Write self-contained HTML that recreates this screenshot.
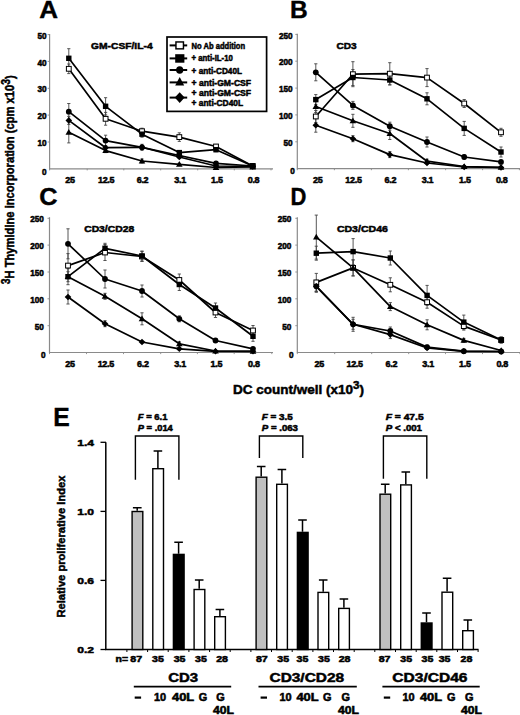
<!DOCTYPE html><html><head><meta charset="utf-8"><style>html,body{margin:0;padding:0;background:#fff;}svg{display:block;font-family:"Liberation Sans", sans-serif;}</style></head><body>
<svg width="520" height="715" viewBox="0 0 520 715">
<rect width="520" height="715" fill="#fff"/>
<text x="39.3" y="18.2" font-size="24.5" font-weight="bold" stroke="#000" stroke-width="0.4" textLength="18.8" lengthAdjust="spacingAndGlyphs">A</text>
<text x="289.9" y="18.3" font-size="24.5" font-weight="bold" stroke="#000" stroke-width="0.4" textLength="17.7" lengthAdjust="spacingAndGlyphs">B</text>
<text x="39.3" y="205.4" font-size="24.5" font-weight="bold" stroke="#000" stroke-width="0.4" textLength="18.3" lengthAdjust="spacingAndGlyphs">C</text>
<text x="290.5" y="204.9" font-size="24.5" font-weight="bold" stroke="#000" stroke-width="0.4" textLength="15.9" lengthAdjust="spacingAndGlyphs">D</text>
<text x="53.3" y="426.4" font-size="26.5" font-weight="bold" stroke="#000" stroke-width="0.4" textLength="16.5" lengthAdjust="spacingAndGlyphs">E</text>
<path d="M49.6 34.0V168.8H273" stroke="#8a8a8a" stroke-width="1.2" fill="none"/>
<path d="M47.6 142.0H49.6M47.6 115.1H49.6M47.6 88.3H49.6M47.6 61.4H49.6M47.6 34.6H49.6M87.2 168.8v1.6M123.8 168.8v1.6M160.7 168.8v1.6M197.7 168.8v1.6M234.3 168.8v1.6M49.6 168.8v1.6M271.0 168.8v1.6" stroke="#8a8a8a" stroke-width="0.9" fill="none"/>
<text x="46.6" y="174.6" font-size="8.2" font-weight="bold" stroke="#000" stroke-width="0.5" text-anchor="end" >0</text>
<text x="46.6" y="146.1" font-size="8.2" font-weight="bold" stroke="#000" stroke-width="0.5" text-anchor="end" >10</text>
<text x="46.6" y="119.2" font-size="8.2" font-weight="bold" stroke="#000" stroke-width="0.5" text-anchor="end" >20</text>
<text x="46.6" y="92.4" font-size="8.2" font-weight="bold" stroke="#000" stroke-width="0.5" text-anchor="end" >30</text>
<text x="46.6" y="65.5" font-size="8.2" font-weight="bold" stroke="#000" stroke-width="0.5" text-anchor="end" >40</text>
<text x="46.6" y="38.7" font-size="8.2" font-weight="bold" stroke="#000" stroke-width="0.5" text-anchor="end" >50</text>
<text x="70.0" y="183.1" font-size="9" font-weight="bold" stroke="#000" stroke-width="0.5" text-anchor="middle" letter-spacing="-0.3">25</text>
<text x="106.1" y="183.1" font-size="9" font-weight="bold" stroke="#000" stroke-width="0.5" text-anchor="middle" letter-spacing="-0.3">12.5</text>
<text x="142.5" y="183.1" font-size="9" font-weight="bold" stroke="#000" stroke-width="0.5" text-anchor="middle" letter-spacing="-0.3">6.2</text>
<text x="180.1" y="183.1" font-size="9" font-weight="bold" stroke="#000" stroke-width="0.5" text-anchor="middle" letter-spacing="-0.3">3.1</text>
<text x="216.8" y="183.1" font-size="9" font-weight="bold" stroke="#000" stroke-width="0.5" text-anchor="middle" letter-spacing="-0.3">1.5</text>
<text x="253.5" y="183.1" font-size="9" font-weight="bold" stroke="#000" stroke-width="0.5" text-anchor="middle" letter-spacing="-0.3">0.8</text>
<text x="91.1" y="49.4" font-size="9.5" font-weight="bold" stroke="#000" stroke-width="0.5" textLength="61.5" lengthAdjust="spacingAndGlyphs" >GM-CSF/IL-4</text>
<path d="M68.8 64.0V73.6M67.2 64.0H70.4M67.2 73.6H70.4" stroke="#444" stroke-width="0.9" fill="none"/>
<path d="M105.6 112.4V125.2M104.0 112.4H107.2M104.0 125.2H107.2" stroke="#444" stroke-width="0.9" fill="none"/>
<path d="M142.0 128.2V134.2M140.4 128.2H143.6M140.4 134.2H143.6" stroke="#444" stroke-width="0.9" fill="none"/>
<path d="M179.3 132.8V141.4M177.7 132.8H180.9M177.7 141.4H180.9" stroke="#444" stroke-width="0.9" fill="none"/>
<path d="M216.0 144.5V148.5M214.4 144.5H217.6M214.4 148.5H217.6" stroke="#444" stroke-width="0.9" fill="none"/>
<path d="M252.7 165.0V167.0M251.1 165.0H254.3M251.1 167.0H254.3" stroke="#444" stroke-width="0.9" fill="none"/>
<path d="M68.8 48.7V67.9M67.2 48.7H70.4M67.2 67.9H70.4" stroke="#444" stroke-width="0.9" fill="none"/>
<path d="M105.6 97.7V114.9M104.0 97.7H107.2M104.0 114.9H107.2" stroke="#444" stroke-width="0.9" fill="none"/>
<path d="M142.0 131.2V137.2M140.4 131.2H143.6M140.4 137.2H143.6" stroke="#444" stroke-width="0.9" fill="none"/>
<path d="M179.3 150.6V154.6M177.7 150.6H180.9M177.7 154.6H180.9" stroke="#444" stroke-width="0.9" fill="none"/>
<path d="M216.0 147.7V151.7M214.4 147.7H217.6M214.4 151.7H217.6" stroke="#444" stroke-width="0.9" fill="none"/>
<path d="M252.7 165.0V167.0M251.1 165.0H254.3M251.1 167.0H254.3" stroke="#444" stroke-width="0.9" fill="none"/>
<path d="M68.8 103.5V119.9M67.2 103.5H70.4M67.2 119.9H70.4" stroke="#444" stroke-width="0.9" fill="none"/>
<path d="M105.6 135.2V146.0M104.0 135.2H107.2M104.0 146.0H107.2" stroke="#444" stroke-width="0.9" fill="none"/>
<path d="M142.0 144.3V150.3M140.4 144.3H143.6M140.4 150.3H143.6" stroke="#444" stroke-width="0.9" fill="none"/>
<path d="M179.3 153.5V157.5M177.7 153.5H180.9M177.7 157.5H180.9" stroke="#444" stroke-width="0.9" fill="none"/>
<path d="M216.0 162.4V164.4M214.4 162.4H217.6M214.4 164.4H217.6" stroke="#444" stroke-width="0.9" fill="none"/>

<path d="M68.8 116.4V124.4M67.2 116.4H70.4M67.2 124.4H70.4" stroke="#444" stroke-width="0.9" fill="none"/>
<path d="M105.6 145.7V149.7M104.0 145.7H107.2M104.0 149.7H107.2" stroke="#444" stroke-width="0.9" fill="none"/>
<path d="M142.0 145.3V149.3M140.4 145.3H143.6M140.4 149.3H143.6" stroke="#444" stroke-width="0.9" fill="none"/>
<path d="M179.3 156.0V158.0M177.7 156.0H180.9M177.7 158.0H180.9" stroke="#444" stroke-width="0.9" fill="none"/>


<path d="M68.8 121.7V142.9M67.2 121.7H70.4M67.2 142.9H70.4" stroke="#444" stroke-width="0.9" fill="none"/>
<path d="M105.6 148.6V152.6M104.0 148.6H107.2M104.0 152.6H107.2" stroke="#444" stroke-width="0.9" fill="none"/>
<path d="M142.0 159.0V163.0M140.4 159.0H143.6M140.4 163.0H143.6" stroke="#444" stroke-width="0.9" fill="none"/>
<path d="M179.3 163.3V165.3M177.7 163.3H180.9M177.7 165.3H180.9" stroke="#444" stroke-width="0.9" fill="none"/>


<polyline points="68.8,68.8 105.6,118.8 142.0,131.2 179.3,137.1 216.0,146.5 252.7,166.0" fill="none" stroke="#000" stroke-width="1.7" stroke-linejoin="round"/>
<polyline points="68.8,58.3 105.6,106.3 142.0,134.2 179.3,152.6 216.0,149.7 252.7,166.0" fill="none" stroke="#000" stroke-width="1.7" stroke-linejoin="round"/>
<polyline points="68.8,111.7 105.6,140.6 142.0,147.3 179.3,155.5 216.0,163.4 252.7,166.0" fill="none" stroke="#000" stroke-width="1.7" stroke-linejoin="round"/>
<polyline points="68.8,120.4 105.6,147.7 142.0,147.3 179.3,157.0 216.0,166.0 252.7,166.5" fill="none" stroke="#000" stroke-width="1.7" stroke-linejoin="round"/>
<polyline points="68.8,132.3 105.6,150.6 142.0,161.0 179.3,164.3 216.0,167.5 252.7,167.0" fill="none" stroke="#000" stroke-width="1.7" stroke-linejoin="round"/>
<rect x="66.4" y="66.4" width="4.8" height="4.8" fill="#fff" stroke="#000" stroke-width="1.0"/>
<rect x="103.2" y="116.4" width="4.8" height="4.8" fill="#fff" stroke="#000" stroke-width="1.0"/>
<rect x="139.6" y="128.8" width="4.8" height="4.8" fill="#fff" stroke="#000" stroke-width="1.0"/>
<rect x="176.9" y="134.7" width="4.8" height="4.8" fill="#fff" stroke="#000" stroke-width="1.0"/>
<rect x="213.6" y="144.1" width="4.8" height="4.8" fill="#fff" stroke="#000" stroke-width="1.0"/>
<rect x="250.3" y="163.6" width="4.8" height="4.8" fill="#fff" stroke="#000" stroke-width="1.0"/>
<rect x="66.1" y="55.6" width="5.4" height="5.4" fill="#000"/>
<rect x="102.9" y="103.6" width="5.4" height="5.4" fill="#000"/>
<rect x="139.3" y="131.5" width="5.4" height="5.4" fill="#000"/>
<rect x="176.6" y="149.9" width="5.4" height="5.4" fill="#000"/>
<rect x="213.3" y="147.0" width="5.4" height="5.4" fill="#000"/>
<rect x="250.0" y="163.3" width="5.4" height="5.4" fill="#000"/>
<circle cx="68.8" cy="111.7" r="2.9" fill="#000"/>
<circle cx="105.6" cy="140.6" r="2.9" fill="#000"/>
<circle cx="142.0" cy="147.3" r="2.9" fill="#000"/>
<circle cx="179.3" cy="155.5" r="2.9" fill="#000"/>
<circle cx="216.0" cy="163.4" r="2.9" fill="#000"/>
<circle cx="252.7" cy="166.0" r="2.9" fill="#000"/>
<path d="M68.8 117.1L72.1 120.4L68.8 123.7L65.5 120.4Z" fill="#000"/>
<path d="M105.6 144.4L108.9 147.7L105.6 151.0L102.3 147.7Z" fill="#000"/>
<path d="M142.0 144.0L145.3 147.3L142.0 150.6L138.7 147.3Z" fill="#000"/>
<path d="M179.3 153.7L182.6 157.0L179.3 160.3L176.0 157.0Z" fill="#000"/>
<path d="M216.0 162.7L219.3 166.0L216.0 169.3L212.7 166.0Z" fill="#000"/>
<path d="M252.7 163.2L256.0 166.5L252.7 169.8L249.4 166.5Z" fill="#000"/>
<path d="M68.8 129.0L72.1 134.7L65.5 134.7Z" fill="#000"/>
<path d="M105.6 147.3L108.9 153.0L102.3 153.0Z" fill="#000"/>
<path d="M142.0 157.7L145.3 163.4L138.7 163.4Z" fill="#000"/>
<path d="M179.3 161.0L182.6 166.7L176.0 166.7Z" fill="#000"/>
<path d="M216.0 164.2L219.3 169.9L212.7 169.9Z" fill="#000"/>
<path d="M252.7 163.7L256.0 169.4L249.4 169.4Z" fill="#000"/>
<rect x="167" y="37" width="99.6" height="74.4" fill="#fff" stroke="#000" stroke-width="1.7"/>
<path d="M169.6 45.4H187.2" stroke="#000" stroke-width="2"/>
<rect x="175.95" y="41.95" width="7.5" height="6.9" fill="#fff" stroke="#000" stroke-width="1.45"/>
<text x="191.6" y="49.0" font-size="8.6" font-weight="bold" stroke="#000" stroke-width="0.5" textLength="53.5" lengthAdjust="spacingAndGlyphs" >No Ab addition</text>
<path d="M169.6 58.4H187.2" stroke="#000" stroke-width="2"/>
<rect x="175.20" y="54.20" width="9.2" height="8.5" fill="#000"/>
<text x="191.6" y="61.1" font-size="8.6" font-weight="bold" stroke="#000" stroke-width="0.5" textLength="41.2" lengthAdjust="spacingAndGlyphs" >+ anti-IL-10</text>
<path d="M169.6 70.0H187.2" stroke="#000" stroke-width="2"/>
<ellipse cx="179.70" cy="70.00" rx="3.6" ry="3.8" fill="#000"/>
<text x="191.6" y="74.1" font-size="8.6" font-weight="bold" stroke="#000" stroke-width="0.5" textLength="50.4" lengthAdjust="spacingAndGlyphs" >+ anti-CD40L</text>
<path d="M169.6 82.4H187.2" stroke="#000" stroke-width="2"/>
<path d="M179.70 76.90L184.20 85.50L175.20 85.50Z" fill="#000"/>
<text x="191.6" y="85.6" font-size="8.6" font-weight="bold" stroke="#000" stroke-width="0.5" textLength="59.5" lengthAdjust="spacingAndGlyphs" >+ anti-GM-CSF</text>
<path d="M169.6 97.6H187.2" stroke="#000" stroke-width="2"/>
<path d="M179.70 92.20L184.60 97.60L179.70 103.00L174.80 97.60Z" fill="#000"/>
<text x="191.6" y="96.3" font-size="8.6" font-weight="bold" stroke="#000" stroke-width="0.5" textLength="59.5" lengthAdjust="spacingAndGlyphs" >+ anti-GM-CSF</text>
<text x="191.6" y="105.7" font-size="8.6" font-weight="bold" stroke="#000" stroke-width="0.5" textLength="51.5" lengthAdjust="spacingAndGlyphs" >+ anti-CD40L</text>
<path d="M297.3 33.8V168.6H520" stroke="#8a8a8a" stroke-width="1.2" fill="none"/>
<path d="M295.3 141.8H297.3M295.3 114.9H297.3M295.3 88.1H297.3M295.3 61.2H297.3M295.3 34.4H297.3M334.4 168.6v1.6M371.4 168.6v1.6M408.4 168.6v1.6M445.6 168.6v1.6M482.6 168.6v1.6M297.3 168.6v1.6M519.4 168.6v1.6" stroke="#8a8a8a" stroke-width="0.9" fill="none"/>
<text x="294.7" y="174.4" font-size="8.2" font-weight="bold" stroke="#000" stroke-width="0.5" text-anchor="end" >0</text>
<text x="292.6" y="145.9" font-size="8.2" font-weight="bold" stroke="#000" stroke-width="0.5" text-anchor="end" >50</text>
<text x="292.6" y="119.0" font-size="8.2" font-weight="bold" stroke="#000" stroke-width="0.5" text-anchor="end" >100</text>
<text x="292.6" y="92.2" font-size="8.2" font-weight="bold" stroke="#000" stroke-width="0.5" text-anchor="end" >150</text>
<text x="292.6" y="65.3" font-size="8.2" font-weight="bold" stroke="#000" stroke-width="0.5" text-anchor="end" >200</text>
<text x="292.6" y="38.5" font-size="8.2" font-weight="bold" stroke="#000" stroke-width="0.5" text-anchor="end" >250</text>
<text x="317.7" y="182.9" font-size="9" font-weight="bold" stroke="#000" stroke-width="0.5" text-anchor="middle" letter-spacing="-0.3">25</text>
<text x="353.5" y="182.9" font-size="9" font-weight="bold" stroke="#000" stroke-width="0.5" text-anchor="middle" letter-spacing="-0.3">12.5</text>
<text x="390.4" y="182.9" font-size="9" font-weight="bold" stroke="#000" stroke-width="0.5" text-anchor="middle" letter-spacing="-0.3">6.2</text>
<text x="427.5" y="182.9" font-size="9" font-weight="bold" stroke="#000" stroke-width="0.5" text-anchor="middle" letter-spacing="-0.3">3.1</text>
<text x="464.8" y="182.9" font-size="9" font-weight="bold" stroke="#000" stroke-width="0.5" text-anchor="middle" letter-spacing="-0.3">1.5</text>
<text x="501.7" y="182.9" font-size="9" font-weight="bold" stroke="#000" stroke-width="0.5" text-anchor="middle" letter-spacing="-0.3">0.8</text>
<text x="336.5" y="48.9" font-size="9.5" font-weight="bold" stroke="#000" stroke-width="0.5" textLength="20.2" lengthAdjust="spacingAndGlyphs" >CD3</text>
<path d="M315.8 110.5V122.5M314.2 110.5H317.4M314.2 122.5H317.4" stroke="#444" stroke-width="0.9" fill="none"/>
<path d="M352.9 61.7V86.7M351.3 61.7H354.5M351.3 86.7H354.5" stroke="#444" stroke-width="0.9" fill="none"/>
<path d="M389.8 62.7V84.7M388.2 62.7H391.4M388.2 84.7H391.4" stroke="#444" stroke-width="0.9" fill="none"/>
<path d="M427.0 68.6V86.6M425.4 68.6H428.6M425.4 86.6H428.6" stroke="#444" stroke-width="0.9" fill="none"/>
<path d="M464.2 99.5V107.5M462.6 99.5H465.8M462.6 107.5H465.8" stroke="#444" stroke-width="0.9" fill="none"/>
<path d="M501.0 128.3V136.3M499.4 128.3H502.6M499.4 136.3H502.6" stroke="#444" stroke-width="0.9" fill="none"/>
<path d="M315.8 94.6V104.6M314.2 94.6H317.4M314.2 104.6H317.4" stroke="#444" stroke-width="0.9" fill="none"/>
<path d="M352.9 69.5V85.5M351.3 69.5H354.5M351.3 85.5H354.5" stroke="#444" stroke-width="0.9" fill="none"/>
<path d="M389.8 75.0V85.0M388.2 75.0H391.4M388.2 85.0H391.4" stroke="#444" stroke-width="0.9" fill="none"/>
<path d="M427.0 92.8V104.8M425.4 92.8H428.6M425.4 104.8H428.6" stroke="#444" stroke-width="0.9" fill="none"/>
<path d="M464.2 121.4V135.4M462.6 121.4H465.8M462.6 135.4H465.8" stroke="#444" stroke-width="0.9" fill="none"/>
<path d="M501.0 147.0V157.0M499.4 147.0H502.6M499.4 157.0H502.6" stroke="#444" stroke-width="0.9" fill="none"/>
<path d="M315.8 63.8V80.8M314.2 63.8H317.4M314.2 80.8H317.4" stroke="#444" stroke-width="0.9" fill="none"/>
<path d="M352.9 101.4V109.4M351.3 101.4H354.5M351.3 109.4H354.5" stroke="#444" stroke-width="0.9" fill="none"/>
<path d="M389.8 122.2V130.2M388.2 122.2H391.4M388.2 130.2H391.4" stroke="#444" stroke-width="0.9" fill="none"/>
<path d="M427.0 137.0V147.0M425.4 137.0H428.6M425.4 147.0H428.6" stroke="#444" stroke-width="0.9" fill="none"/>
<path d="M464.2 155.0V159.0M462.6 155.0H465.8M462.6 159.0H465.8" stroke="#444" stroke-width="0.9" fill="none"/>
<path d="M501.0 160.9V162.9M499.4 160.9H502.6M499.4 162.9H502.6" stroke="#444" stroke-width="0.9" fill="none"/>
<path d="M315.8 118.2V132.2M314.2 118.2H317.4M314.2 132.2H317.4" stroke="#444" stroke-width="0.9" fill="none"/>
<path d="M352.9 135.7V141.7M351.3 135.7H354.5M351.3 141.7H354.5" stroke="#444" stroke-width="0.9" fill="none"/>
<path d="M389.8 151.6V157.6M388.2 151.6H391.4M388.2 157.6H391.4" stroke="#444" stroke-width="0.9" fill="none"/>
<path d="M427.0 162.0V164.0M425.4 162.0H428.6M425.4 164.0H428.6" stroke="#444" stroke-width="0.9" fill="none"/>


<path d="M315.8 100.5V112.5M314.2 100.5H317.4M314.2 112.5H317.4" stroke="#444" stroke-width="0.9" fill="none"/>
<path d="M352.9 114.3V127.3M351.3 114.3H354.5M351.3 127.3H354.5" stroke="#444" stroke-width="0.9" fill="none"/>
<path d="M389.8 127.5V139.5M388.2 127.5H391.4M388.2 139.5H391.4" stroke="#444" stroke-width="0.9" fill="none"/>
<path d="M427.0 159.2V163.2M425.4 159.2H428.6M425.4 163.2H428.6" stroke="#444" stroke-width="0.9" fill="none"/>
<path d="M464.2 165.5V167.5M462.6 165.5H465.8M462.6 167.5H465.8" stroke="#444" stroke-width="0.9" fill="none"/>

<polyline points="315.8,116.5 352.9,74.2 389.8,73.7 427.0,77.6 464.2,103.5 501.0,132.3" fill="none" stroke="#000" stroke-width="1.7" stroke-linejoin="round"/>
<polyline points="315.8,99.6 352.9,77.5 389.8,80.0 427.0,98.8 464.2,128.4 501.0,152.0" fill="none" stroke="#000" stroke-width="1.7" stroke-linejoin="round"/>
<polyline points="315.8,72.3 352.9,105.4 389.8,126.2 427.0,142.0 464.2,157.0 501.0,161.9" fill="none" stroke="#000" stroke-width="1.7" stroke-linejoin="round"/>
<polyline points="315.8,125.2 352.9,138.7 389.8,154.6 427.0,163.0 464.2,167.0 501.0,167.5" fill="none" stroke="#000" stroke-width="1.7" stroke-linejoin="round"/>
<polyline points="315.8,106.5 352.9,120.8 389.8,133.5 427.0,161.2 464.2,166.5 501.0,167.3" fill="none" stroke="#000" stroke-width="1.7" stroke-linejoin="round"/>
<rect x="313.4" y="114.1" width="4.8" height="4.8" fill="#fff" stroke="#000" stroke-width="1.0"/>
<rect x="350.5" y="71.8" width="4.8" height="4.8" fill="#fff" stroke="#000" stroke-width="1.0"/>
<rect x="387.4" y="71.3" width="4.8" height="4.8" fill="#fff" stroke="#000" stroke-width="1.0"/>
<rect x="424.6" y="75.2" width="4.8" height="4.8" fill="#fff" stroke="#000" stroke-width="1.0"/>
<rect x="461.8" y="101.1" width="4.8" height="4.8" fill="#fff" stroke="#000" stroke-width="1.0"/>
<rect x="498.6" y="129.9" width="4.8" height="4.8" fill="#fff" stroke="#000" stroke-width="1.0"/>
<rect x="313.1" y="96.9" width="5.4" height="5.4" fill="#000"/>
<rect x="350.2" y="74.8" width="5.4" height="5.4" fill="#000"/>
<rect x="387.1" y="77.3" width="5.4" height="5.4" fill="#000"/>
<rect x="424.3" y="96.1" width="5.4" height="5.4" fill="#000"/>
<rect x="461.5" y="125.7" width="5.4" height="5.4" fill="#000"/>
<rect x="498.3" y="149.3" width="5.4" height="5.4" fill="#000"/>
<circle cx="315.8" cy="72.3" r="2.9" fill="#000"/>
<circle cx="352.9" cy="105.4" r="2.9" fill="#000"/>
<circle cx="389.8" cy="126.2" r="2.9" fill="#000"/>
<circle cx="427.0" cy="142.0" r="2.9" fill="#000"/>
<circle cx="464.2" cy="157.0" r="2.9" fill="#000"/>
<circle cx="501.0" cy="161.9" r="2.9" fill="#000"/>
<path d="M315.8 121.9L319.1 125.2L315.8 128.5L312.5 125.2Z" fill="#000"/>
<path d="M352.9 135.4L356.2 138.7L352.9 142.0L349.6 138.7Z" fill="#000"/>
<path d="M389.8 151.3L393.1 154.6L389.8 157.9L386.5 154.6Z" fill="#000"/>
<path d="M427.0 159.7L430.3 163.0L427.0 166.3L423.7 163.0Z" fill="#000"/>
<path d="M464.2 163.7L467.5 167.0L464.2 170.3L460.9 167.0Z" fill="#000"/>
<path d="M501.0 164.2L504.3 167.5L501.0 170.8L497.7 167.5Z" fill="#000"/>
<path d="M315.8 103.2L319.1 108.9L312.5 108.9Z" fill="#000"/>
<path d="M352.9 117.5L356.2 123.2L349.6 123.2Z" fill="#000"/>
<path d="M389.8 130.2L393.1 135.9L386.5 135.9Z" fill="#000"/>
<path d="M427.0 157.9L430.3 163.6L423.7 163.6Z" fill="#000"/>
<path d="M464.2 163.2L467.5 168.9L460.9 168.9Z" fill="#000"/>
<path d="M501.0 164.0L504.3 169.7L497.7 169.7Z" fill="#000"/>
<path d="M49.5 217.2V352.5H273" stroke="#8a8a8a" stroke-width="1.2" fill="none"/>
<path d="M47.5 325.7H49.5M47.5 298.8H49.5M47.5 272.0H49.5M47.5 245.1H49.5M47.5 218.3H49.5M86.5 352.5v1.6M123.5 352.5v1.6M160.7 352.5v1.6M197.4 352.5v1.6M234.2 352.5v1.6M49.5 352.5v1.6M271.8 352.5v1.6" stroke="#8a8a8a" stroke-width="0.9" fill="none"/>
<text x="45.5" y="358.3" font-size="8.2" font-weight="bold" stroke="#000" stroke-width="0.5" text-anchor="end" >0</text>
<text x="43.8" y="329.8" font-size="8.2" font-weight="bold" stroke="#000" stroke-width="0.5" text-anchor="end" >50</text>
<text x="43.8" y="302.9" font-size="8.2" font-weight="bold" stroke="#000" stroke-width="0.5" text-anchor="end" >100</text>
<text x="43.8" y="276.1" font-size="8.2" font-weight="bold" stroke="#000" stroke-width="0.5" text-anchor="end" >150</text>
<text x="43.8" y="249.2" font-size="8.2" font-weight="bold" stroke="#000" stroke-width="0.5" text-anchor="end" >200</text>
<text x="43.8" y="222.4" font-size="8.2" font-weight="bold" stroke="#000" stroke-width="0.5" text-anchor="end" >250</text>
<text x="70.0" y="366.8" font-size="9" font-weight="bold" stroke="#000" stroke-width="0.5" text-anchor="middle" letter-spacing="-0.3">25</text>
<text x="105.8" y="366.8" font-size="9" font-weight="bold" stroke="#000" stroke-width="0.5" text-anchor="middle" letter-spacing="-0.3">12.5</text>
<text x="142.8" y="366.8" font-size="9" font-weight="bold" stroke="#000" stroke-width="0.5" text-anchor="middle" letter-spacing="-0.3">6.2</text>
<text x="180.1" y="366.8" font-size="9" font-weight="bold" stroke="#000" stroke-width="0.5" text-anchor="middle" letter-spacing="-0.3">3.1</text>
<text x="216.3" y="366.8" font-size="9" font-weight="bold" stroke="#000" stroke-width="0.5" text-anchor="middle" letter-spacing="-0.3">1.5</text>
<text x="253.8" y="366.8" font-size="9" font-weight="bold" stroke="#000" stroke-width="0.5" text-anchor="middle" letter-spacing="-0.3">0.8</text>
<text x="84.2" y="232.1" font-size="9.5" font-weight="bold" stroke="#000" stroke-width="0.5" textLength="50.0" lengthAdjust="spacingAndGlyphs" >CD3/CD28</text>
<path d="M68.0 253.6V277.6M66.4 253.6H69.6M66.4 277.6H69.6" stroke="#444" stroke-width="0.9" fill="none"/>
<path d="M105.0 244.5V260.5M103.4 244.5H106.6M103.4 260.5H106.6" stroke="#444" stroke-width="0.9" fill="none"/>
<path d="M142.0 251.5V261.5M140.4 251.5H143.6M140.4 261.5H143.6" stroke="#444" stroke-width="0.9" fill="none"/>
<path d="M179.3 274.0V286.0M177.7 274.0H180.9M177.7 286.0H180.9" stroke="#444" stroke-width="0.9" fill="none"/>
<path d="M215.5 307.5V317.5M213.9 307.5H217.1M213.9 317.5H217.1" stroke="#444" stroke-width="0.9" fill="none"/>
<path d="M253.0 325.5V335.5M251.4 325.5H254.6M251.4 335.5H254.6" stroke="#444" stroke-width="0.9" fill="none"/>
<path d="M68.0 268.7V284.7M66.4 268.7H69.6M66.4 284.7H69.6" stroke="#444" stroke-width="0.9" fill="none"/>
<path d="M105.0 243.3V253.3M103.4 243.3H106.6M103.4 253.3H106.6" stroke="#444" stroke-width="0.9" fill="none"/>
<path d="M142.0 251.0V261.0M140.4 251.0H143.6M140.4 261.0H143.6" stroke="#444" stroke-width="0.9" fill="none"/>
<path d="M179.3 278.5V290.5M177.7 278.5H180.9M177.7 290.5H180.9" stroke="#444" stroke-width="0.9" fill="none"/>
<path d="M215.5 303.0V313.0M213.9 303.0H217.1M213.9 313.0H217.1" stroke="#444" stroke-width="0.9" fill="none"/>
<path d="M253.0 331.3V341.3M251.4 331.3H254.6M251.4 341.3H254.6" stroke="#444" stroke-width="0.9" fill="none"/>
<path d="M68.0 228.8V258.8M66.4 228.8H69.6M66.4 258.8H69.6" stroke="#444" stroke-width="0.9" fill="none"/>
<path d="M105.0 270.0V288.0M103.4 270.0H106.6M103.4 288.0H106.6" stroke="#444" stroke-width="0.9" fill="none"/>
<path d="M142.0 285.0V297.0M140.4 285.0H143.6M140.4 297.0H143.6" stroke="#444" stroke-width="0.9" fill="none"/>
<path d="M179.3 315.8V321.8M177.7 315.8H180.9M177.7 321.8H180.9" stroke="#444" stroke-width="0.9" fill="none"/>
<path d="M215.5 339.5V341.5M213.9 339.5H217.1M213.9 341.5H217.1" stroke="#444" stroke-width="0.9" fill="none"/>

<path d="M68.0 290.0V304.0M66.4 290.0H69.6M66.4 304.0H69.6" stroke="#444" stroke-width="0.9" fill="none"/>
<path d="M105.0 320.7V326.7M103.4 320.7H106.6M103.4 326.7H106.6" stroke="#444" stroke-width="0.9" fill="none"/>
<path d="M142.0 341.0V343.0M140.4 341.0H143.6M140.4 343.0H143.6" stroke="#444" stroke-width="0.9" fill="none"/>
<path d="M179.3 347.8V349.8M177.7 347.8H180.9M177.7 349.8H180.9" stroke="#444" stroke-width="0.9" fill="none"/>


<path d="M68.0 271.7V281.7M66.4 271.7H69.6M66.4 281.7H69.6" stroke="#444" stroke-width="0.9" fill="none"/>
<path d="M105.0 293.3V299.3M103.4 293.3H106.6M103.4 299.3H106.6" stroke="#444" stroke-width="0.9" fill="none"/>
<path d="M142.0 312.8V324.8M140.4 312.8H143.6M140.4 324.8H143.6" stroke="#444" stroke-width="0.9" fill="none"/>
<path d="M179.3 341.8V345.8M177.7 341.8H180.9M177.7 345.8H180.9" stroke="#444" stroke-width="0.9" fill="none"/>


<polyline points="68.0,265.6 105.0,252.5 142.0,256.5 179.3,280.0 215.5,312.5 253.0,330.5" fill="none" stroke="#000" stroke-width="1.7" stroke-linejoin="round"/>
<polyline points="68.0,276.7 105.0,248.3 142.0,256.0 179.3,284.5 215.5,308.0 253.0,336.3" fill="none" stroke="#000" stroke-width="1.7" stroke-linejoin="round"/>
<polyline points="68.0,243.8 105.0,279.0 142.0,291.0 179.3,318.8 215.5,340.5 253.0,348.8" fill="none" stroke="#000" stroke-width="1.7" stroke-linejoin="round"/>
<polyline points="68.0,297.0 105.0,323.7 142.0,342.0 179.3,348.8 215.5,351.3 253.0,351.3" fill="none" stroke="#000" stroke-width="1.7" stroke-linejoin="round"/>
<polyline points="68.0,276.7 105.0,296.3 142.0,318.8 179.3,343.8 215.5,351.0 253.0,351.3" fill="none" stroke="#000" stroke-width="1.7" stroke-linejoin="round"/>
<rect x="65.6" y="263.2" width="4.8" height="4.8" fill="#fff" stroke="#000" stroke-width="1.0"/>
<rect x="102.6" y="250.1" width="4.8" height="4.8" fill="#fff" stroke="#000" stroke-width="1.0"/>
<rect x="139.6" y="254.1" width="4.8" height="4.8" fill="#fff" stroke="#000" stroke-width="1.0"/>
<rect x="176.9" y="277.6" width="4.8" height="4.8" fill="#fff" stroke="#000" stroke-width="1.0"/>
<rect x="213.1" y="310.1" width="4.8" height="4.8" fill="#fff" stroke="#000" stroke-width="1.0"/>
<rect x="250.6" y="328.1" width="4.8" height="4.8" fill="#fff" stroke="#000" stroke-width="1.0"/>
<rect x="65.3" y="274.0" width="5.4" height="5.4" fill="#000"/>
<rect x="102.3" y="245.6" width="5.4" height="5.4" fill="#000"/>
<rect x="139.3" y="253.3" width="5.4" height="5.4" fill="#000"/>
<rect x="176.6" y="281.8" width="5.4" height="5.4" fill="#000"/>
<rect x="212.8" y="305.3" width="5.4" height="5.4" fill="#000"/>
<rect x="250.3" y="333.6" width="5.4" height="5.4" fill="#000"/>
<circle cx="68.0" cy="243.8" r="2.9" fill="#000"/>
<circle cx="105.0" cy="279.0" r="2.9" fill="#000"/>
<circle cx="142.0" cy="291.0" r="2.9" fill="#000"/>
<circle cx="179.3" cy="318.8" r="2.9" fill="#000"/>
<circle cx="215.5" cy="340.5" r="2.9" fill="#000"/>
<circle cx="253.0" cy="348.8" r="2.9" fill="#000"/>
<path d="M68.0 293.7L71.3 297.0L68.0 300.3L64.7 297.0Z" fill="#000"/>
<path d="M105.0 320.4L108.3 323.7L105.0 327.0L101.7 323.7Z" fill="#000"/>
<path d="M142.0 338.7L145.3 342.0L142.0 345.3L138.7 342.0Z" fill="#000"/>
<path d="M179.3 345.5L182.6 348.8L179.3 352.1L176.0 348.8Z" fill="#000"/>
<path d="M215.5 348.0L218.8 351.3L215.5 354.6L212.2 351.3Z" fill="#000"/>
<path d="M253.0 348.0L256.3 351.3L253.0 354.6L249.7 351.3Z" fill="#000"/>
<path d="M68.0 273.4L71.3 279.1L64.7 279.1Z" fill="#000"/>
<path d="M105.0 293.0L108.3 298.7L101.7 298.7Z" fill="#000"/>
<path d="M142.0 315.5L145.3 321.2L138.7 321.2Z" fill="#000"/>
<path d="M179.3 340.5L182.6 346.2L176.0 346.2Z" fill="#000"/>
<path d="M215.5 347.7L218.8 353.4L212.2 353.4Z" fill="#000"/>
<path d="M253.0 348.0L256.3 353.7L249.7 353.7Z" fill="#000"/>
<path d="M297.3 217.2V352.5H520" stroke="#8a8a8a" stroke-width="1.2" fill="none"/>
<path d="M295.3 325.7H297.3M295.3 298.8H297.3M295.3 272.0H297.3M295.3 245.1H297.3M295.3 218.3H297.3M334.7 352.5v1.6M371.7 352.5v1.6M408.7 352.5v1.6M445.5 352.5v1.6M482.5 352.5v1.6M297.3 352.5v1.6M519.9 352.5v1.6" stroke="#8a8a8a" stroke-width="0.9" fill="none"/>
<text x="293.5" y="358.3" font-size="8.2" font-weight="bold" stroke="#000" stroke-width="0.5" text-anchor="end" >0</text>
<text x="291.3" y="329.8" font-size="8.2" font-weight="bold" stroke="#000" stroke-width="0.5" text-anchor="end" >50</text>
<text x="291.3" y="302.9" font-size="8.2" font-weight="bold" stroke="#000" stroke-width="0.5" text-anchor="end" >100</text>
<text x="291.3" y="276.1" font-size="8.2" font-weight="bold" stroke="#000" stroke-width="0.5" text-anchor="end" >150</text>
<text x="291.3" y="249.2" font-size="8.2" font-weight="bold" stroke="#000" stroke-width="0.5" text-anchor="end" >200</text>
<text x="291.3" y="222.4" font-size="8.2" font-weight="bold" stroke="#000" stroke-width="0.5" text-anchor="end" >250</text>
<text x="319.2" y="366.8" font-size="9" font-weight="bold" stroke="#000" stroke-width="0.5" text-anchor="middle" letter-spacing="-0.3">25</text>
<text x="354.6" y="366.8" font-size="9" font-weight="bold" stroke="#000" stroke-width="0.5" text-anchor="middle" letter-spacing="-0.3">12.5</text>
<text x="391.3" y="366.8" font-size="9" font-weight="bold" stroke="#000" stroke-width="0.5" text-anchor="middle" letter-spacing="-0.3">6.2</text>
<text x="428.1" y="366.8" font-size="9" font-weight="bold" stroke="#000" stroke-width="0.5" text-anchor="middle" letter-spacing="-0.3">3.1</text>
<text x="464.8" y="366.8" font-size="9" font-weight="bold" stroke="#000" stroke-width="0.5" text-anchor="middle" letter-spacing="-0.3">1.5</text>
<text x="502.2" y="366.8" font-size="9" font-weight="bold" stroke="#000" stroke-width="0.5" text-anchor="middle" letter-spacing="-0.3">0.8</text>
<text x="336.9" y="232.1" font-size="9.5" font-weight="bold" stroke="#000" stroke-width="0.5" textLength="51.0" lengthAdjust="spacingAndGlyphs" >CD3/CD46</text>
<path d="M316.3 273.4V291.4M314.7 273.4H317.9M314.7 291.4H317.9" stroke="#444" stroke-width="0.9" fill="none"/>
<path d="M353.1 259.9V275.9M351.5 259.9H354.7M351.5 275.9H354.7" stroke="#444" stroke-width="0.9" fill="none"/>
<path d="M390.3 277.8V291.8M388.7 277.8H391.9M388.7 291.8H391.9" stroke="#444" stroke-width="0.9" fill="none"/>
<path d="M427.1 296.2V308.2M425.5 296.2H428.7M425.5 308.2H428.7" stroke="#444" stroke-width="0.9" fill="none"/>
<path d="M463.8 322.1V330.1M462.2 322.1H465.4M462.2 330.1H465.4" stroke="#444" stroke-width="0.9" fill="none"/>
<path d="M501.2 337.0V343.0M499.6 337.0H502.8M499.6 343.0H502.8" stroke="#444" stroke-width="0.9" fill="none"/>
<path d="M316.3 246.2V260.2M314.7 246.2H317.9M314.7 260.2H317.9" stroke="#444" stroke-width="0.9" fill="none"/>
<path d="M353.1 238.6V264.6M351.5 238.6H354.7M351.5 264.6H354.7" stroke="#444" stroke-width="0.9" fill="none"/>
<path d="M390.3 251.0V265.0M388.7 251.0H391.9M388.7 265.0H391.9" stroke="#444" stroke-width="0.9" fill="none"/>
<path d="M427.1 285.4V305.4M425.5 285.4H428.7M425.5 305.4H428.7" stroke="#444" stroke-width="0.9" fill="none"/>
<path d="M463.8 315.1V329.1M462.2 315.1H465.4M462.2 329.1H465.4" stroke="#444" stroke-width="0.9" fill="none"/>
<path d="M501.2 337.0V343.0M499.6 337.0H502.8M499.6 343.0H502.8" stroke="#444" stroke-width="0.9" fill="none"/>
<path d="M316.3 280.3V292.3M314.7 280.3H317.9M314.7 292.3H317.9" stroke="#444" stroke-width="0.9" fill="none"/>
<path d="M353.1 317.3V331.3M351.5 317.3H354.7M351.5 331.3H354.7" stroke="#444" stroke-width="0.9" fill="none"/>
<path d="M390.3 327.0V335.0M388.7 327.0H391.9M388.7 335.0H391.9" stroke="#444" stroke-width="0.9" fill="none"/>
<path d="M427.1 345.1V349.1M425.5 345.1H428.7M425.5 349.1H428.7" stroke="#444" stroke-width="0.9" fill="none"/>


<path d="M316.3 281.3V291.3M314.7 281.3H317.9M314.7 291.3H317.9" stroke="#444" stroke-width="0.9" fill="none"/>
<path d="M353.1 319.3V329.3M351.5 319.3H354.7M351.5 329.3H354.7" stroke="#444" stroke-width="0.9" fill="none"/>
<path d="M390.3 330.6V338.6M388.7 330.6H391.9M388.7 338.6H391.9" stroke="#444" stroke-width="0.9" fill="none"/>
<path d="M427.1 347.0V349.0M425.5 347.0H428.7M425.5 349.0H428.7" stroke="#444" stroke-width="0.9" fill="none"/>


<path d="M316.3 215.1V259.1M314.7 215.1H317.9M314.7 259.1H317.9" stroke="#444" stroke-width="0.9" fill="none"/>
<path d="M353.1 259.9V275.9M351.5 259.9H354.7M351.5 275.9H354.7" stroke="#444" stroke-width="0.9" fill="none"/>
<path d="M390.3 302.6V310.6M388.7 302.6H391.9M388.7 310.6H391.9" stroke="#444" stroke-width="0.9" fill="none"/>
<path d="M427.1 319.8V329.8M425.5 319.8H428.7M425.5 329.8H428.7" stroke="#444" stroke-width="0.9" fill="none"/>
<path d="M463.8 338.4V342.4M462.2 338.4H465.4M462.2 342.4H465.4" stroke="#444" stroke-width="0.9" fill="none"/>
<path d="M501.2 349.5V351.5M499.6 349.5H502.8M499.6 351.5H502.8" stroke="#444" stroke-width="0.9" fill="none"/>
<polyline points="316.3,282.4 353.1,267.9 390.3,284.8 427.1,302.2 463.8,326.1 501.2,340.0" fill="none" stroke="#000" stroke-width="1.7" stroke-linejoin="round"/>
<polyline points="316.3,253.2 353.1,251.6 390.3,258.0 427.1,295.4 463.8,322.1 501.2,340.0" fill="none" stroke="#000" stroke-width="1.7" stroke-linejoin="round"/>
<polyline points="316.3,286.3 353.1,324.3 390.3,331.0 427.1,347.1 463.8,351.2 501.2,351.5" fill="none" stroke="#000" stroke-width="1.7" stroke-linejoin="round"/>
<polyline points="316.3,286.3 353.1,324.3 390.3,334.6 427.1,348.0 463.8,351.3 501.2,351.5" fill="none" stroke="#000" stroke-width="1.7" stroke-linejoin="round"/>
<polyline points="316.3,237.1 353.1,267.9 390.3,306.6 427.1,324.8 463.8,340.4 501.2,350.5" fill="none" stroke="#000" stroke-width="1.7" stroke-linejoin="round"/>
<rect x="313.9" y="280.0" width="4.8" height="4.8" fill="#fff" stroke="#000" stroke-width="1.0"/>
<rect x="350.7" y="265.5" width="4.8" height="4.8" fill="#fff" stroke="#000" stroke-width="1.0"/>
<rect x="387.9" y="282.4" width="4.8" height="4.8" fill="#fff" stroke="#000" stroke-width="1.0"/>
<rect x="424.7" y="299.8" width="4.8" height="4.8" fill="#fff" stroke="#000" stroke-width="1.0"/>
<rect x="461.4" y="323.7" width="4.8" height="4.8" fill="#fff" stroke="#000" stroke-width="1.0"/>
<rect x="498.8" y="337.6" width="4.8" height="4.8" fill="#fff" stroke="#000" stroke-width="1.0"/>
<rect x="313.6" y="250.5" width="5.4" height="5.4" fill="#000"/>
<rect x="350.4" y="248.9" width="5.4" height="5.4" fill="#000"/>
<rect x="387.6" y="255.3" width="5.4" height="5.4" fill="#000"/>
<rect x="424.4" y="292.7" width="5.4" height="5.4" fill="#000"/>
<rect x="461.1" y="319.4" width="5.4" height="5.4" fill="#000"/>
<rect x="498.5" y="337.3" width="5.4" height="5.4" fill="#000"/>
<circle cx="316.3" cy="286.3" r="2.9" fill="#000"/>
<circle cx="353.1" cy="324.3" r="2.9" fill="#000"/>
<circle cx="390.3" cy="331.0" r="2.9" fill="#000"/>
<circle cx="427.1" cy="347.1" r="2.9" fill="#000"/>
<circle cx="463.8" cy="351.2" r="2.9" fill="#000"/>
<circle cx="501.2" cy="351.5" r="2.9" fill="#000"/>
<path d="M316.3 283.0L319.6 286.3L316.3 289.6L313.0 286.3Z" fill="#000"/>
<path d="M353.1 321.0L356.4 324.3L353.1 327.6L349.8 324.3Z" fill="#000"/>
<path d="M390.3 331.3L393.6 334.6L390.3 337.9L387.0 334.6Z" fill="#000"/>
<path d="M427.1 344.7L430.4 348.0L427.1 351.3L423.8 348.0Z" fill="#000"/>
<path d="M463.8 348.0L467.1 351.3L463.8 354.6L460.5 351.3Z" fill="#000"/>
<path d="M501.2 348.2L504.5 351.5L501.2 354.8L497.9 351.5Z" fill="#000"/>
<path d="M316.3 233.8L319.6 239.5L313.0 239.5Z" fill="#000"/>
<path d="M353.1 264.6L356.4 270.3L349.8 270.3Z" fill="#000"/>
<path d="M390.3 303.3L393.6 309.0L387.0 309.0Z" fill="#000"/>
<path d="M427.1 321.5L430.4 327.2L423.8 327.2Z" fill="#000"/>
<path d="M463.8 337.1L467.1 342.8L460.5 342.8Z" fill="#000"/>
<path d="M501.2 347.2L504.5 352.9L497.9 352.9Z" fill="#000"/>
<text transform="translate(14.3,284.2) rotate(-90) scale(0.86,1)" font-size="13" font-weight="bold" stroke="#000" stroke-width="0.5"><tspan dy="-4.6" font-size="12">3</tspan><tspan dy="4.6">H Thymidine incorporation (cpm x10</tspan><tspan dy="-4.6" font-size="12">3</tspan><tspan dy="4.6">)</tspan></text>
<text x="233" y="393.7" font-size="13.5" font-weight="bold" stroke="#000" stroke-width="0.5">DC count/well (x10<tspan dy="-4.5" font-size="11.5">3</tspan><tspan dy="4.5">)</tspan></text>
<path d="M105.8 442.3V649.5H478.5" stroke="#000" stroke-width="1.5" fill="none"/>
<path d="M100.5 649.5H106" stroke="#000" stroke-width="1.3"/>
<text x="77.3" y="653.4" font-size="9.8" font-weight="bold" stroke="#000" stroke-width="0.5" textLength="16.8" lengthAdjust="spacingAndGlyphs" >0.2</text>
<path d="M100.5 580.4H106" stroke="#000" stroke-width="1.3"/>
<text x="77.3" y="584.3" font-size="9.8" font-weight="bold" stroke="#000" stroke-width="0.5" textLength="16.8" lengthAdjust="spacingAndGlyphs" >0.6</text>
<path d="M100.5 511.4H106" stroke="#000" stroke-width="1.3"/>
<text x="77.3" y="515.3" font-size="9.8" font-weight="bold" stroke="#000" stroke-width="0.5" textLength="16.8" lengthAdjust="spacingAndGlyphs" >1.0</text>
<path d="M100.5 442.3H106" stroke="#000" stroke-width="1.3"/>
<text x="77.3" y="446.2" font-size="9.8" font-weight="bold" stroke="#000" stroke-width="0.5" textLength="16.8" lengthAdjust="spacingAndGlyphs" >1.4</text>
<text transform="translate(64.6,617.5) rotate(-90)" font-size="11.8" font-weight="bold" stroke="#000" stroke-width="0.5" textLength="142" lengthAdjust="spacingAndGlyphs">Relative proliferative Index</text>
<path d="M126.9 649.5V652.0" stroke="#000" stroke-width="1"/>
<path d="M147.6 649.5V652.0" stroke="#000" stroke-width="1"/>
<path d="M168.2 649.5V652.0" stroke="#000" stroke-width="1"/>
<path d="M188.9 649.5V652.0" stroke="#000" stroke-width="1"/>
<path d="M209.6 649.5V652.0" stroke="#000" stroke-width="1"/>
<path d="M230.2 649.5V652.0" stroke="#000" stroke-width="1"/>
<path d="M250.9 649.5V652.0" stroke="#000" stroke-width="1"/>
<path d="M271.5 649.5V652.0" stroke="#000" stroke-width="1"/>
<path d="M292.2 649.5V652.0" stroke="#000" stroke-width="1"/>
<path d="M312.9 649.5V652.0" stroke="#000" stroke-width="1"/>
<path d="M333.5 649.5V652.0" stroke="#000" stroke-width="1"/>
<path d="M354.2 649.5V652.0" stroke="#000" stroke-width="1"/>
<path d="M374.8 649.5V652.0" stroke="#000" stroke-width="1"/>
<path d="M395.5 649.5V652.0" stroke="#000" stroke-width="1"/>
<path d="M416.2 649.5V652.0" stroke="#000" stroke-width="1"/>
<path d="M436.8 649.5V652.0" stroke="#000" stroke-width="1"/>
<path d="M457.5 649.5V652.0" stroke="#000" stroke-width="1"/>
<path d="M478.1 649.5V652.0" stroke="#000" stroke-width="1"/>
<path d="M137.2 510.8V507.7M132.9 507.7H141.6" stroke="#000" stroke-width="1.5"/>
<rect x="132.1" y="511.5" width="10.7" height="138.0" fill="#c0c0c0" stroke="#000" stroke-width="1.4"/>
<path d="M157.9 468.0V450.9M153.6 450.9H162.2" stroke="#000" stroke-width="1.5"/>
<rect x="152.8" y="468.7" width="10.7" height="180.8" fill="#fff" stroke="#000" stroke-width="1.4"/>
<path d="M178.6 553.7V542.3M174.3 542.3H182.9" stroke="#000" stroke-width="1.5"/>
<rect x="173.4" y="554.4" width="10.7" height="95.1" fill="#000" stroke="#000" stroke-width="1.4"/>
<path d="M199.2 588.8V580.0M194.9 580.0H203.5" stroke="#000" stroke-width="1.5"/>
<rect x="194.1" y="589.5" width="10.7" height="60.0" fill="#fff" stroke="#000" stroke-width="1.4"/>
<path d="M219.9 616.0V609.4M215.6 609.4H224.2" stroke="#000" stroke-width="1.5"/>
<rect x="214.7" y="616.7" width="10.7" height="32.8" fill="#fff" stroke="#000" stroke-width="1.4"/>
<path d="M135.4 479.7V436H178.9V479.7" stroke="#000" stroke-width="1.4" fill="none"/>
<text x="137.8" y="419.8" font-size="8.6" font-weight="bold" stroke="#000" stroke-width="0.5" textLength="29.7" lengthAdjust="spacingAndGlyphs"><tspan font-style="italic">F</tspan> = 6.1</text>
<text x="137.8" y="430.9" font-size="8.6" font-weight="bold" stroke="#000" stroke-width="0.5" textLength="35" lengthAdjust="spacingAndGlyphs"><tspan font-style="italic">P</tspan> = .014</text>
<text x="136.2" y="662.0" font-size="8.4" font-weight="bold" stroke="#000" stroke-width="0.5" textLength="11.8" lengthAdjust="spacingAndGlyphs" text-anchor="middle" >87</text>
<text x="157.9" y="662.0" font-size="8.4" font-weight="bold" stroke="#000" stroke-width="0.5" textLength="11.8" lengthAdjust="spacingAndGlyphs" text-anchor="middle" >35</text>
<text x="179.6" y="662.0" font-size="8.4" font-weight="bold" stroke="#000" stroke-width="0.5" textLength="11.8" lengthAdjust="spacingAndGlyphs" text-anchor="middle" >35</text>
<text x="201.0" y="662.0" font-size="8.4" font-weight="bold" stroke="#000" stroke-width="0.5" textLength="11.8" lengthAdjust="spacingAndGlyphs" text-anchor="middle" >35</text>
<text x="222.1" y="662.0" font-size="8.4" font-weight="bold" stroke="#000" stroke-width="0.5" textLength="11.8" lengthAdjust="spacingAndGlyphs" text-anchor="middle" >28</text>
<text x="183.1" y="682.0" font-size="13" font-weight="bold" stroke="#000" stroke-width="0.5" textLength="29.8" lengthAdjust="spacingAndGlyphs" text-anchor="middle" >CD3</text>
<path d="M133.8 686.6H231.2" stroke="#000" stroke-width="1.8"/>
<rect x="134.7" y="696.5" width="6.4" height="2.2" fill="#000"/>
<text x="160.0" y="701.4" font-size="10" font-weight="bold" stroke="#000" stroke-width="0.5" textLength="12.2" lengthAdjust="spacingAndGlyphs" text-anchor="middle" >10</text>
<text x="183.1" y="701.4" font-size="10" font-weight="bold" stroke="#000" stroke-width="0.5" textLength="22.2" lengthAdjust="spacingAndGlyphs" text-anchor="middle" >40L</text>
<text x="203.1" y="701.4" font-size="10" font-weight="bold" stroke="#000" stroke-width="0.5" textLength="8.5" lengthAdjust="spacingAndGlyphs" text-anchor="middle" >G</text>
<text x="220.4" y="701.4" font-size="10" font-weight="bold" stroke="#000" stroke-width="0.5" textLength="8.5" lengthAdjust="spacingAndGlyphs" text-anchor="middle" >G</text>
<text x="223.4" y="714.3" font-size="10" font-weight="bold" stroke="#000" stroke-width="0.5" textLength="21.0" lengthAdjust="spacingAndGlyphs" text-anchor="middle" >40L</text>
<path d="M261.2 476.5V466.4M256.9 466.4H265.5" stroke="#000" stroke-width="1.5"/>
<rect x="256.1" y="477.2" width="10.7" height="172.3" fill="#c0c0c0" stroke="#000" stroke-width="1.4"/>
<path d="M281.9 483.6V469.5M277.6 469.5H286.2" stroke="#000" stroke-width="1.5"/>
<rect x="276.7" y="484.3" width="10.7" height="165.2" fill="#fff" stroke="#000" stroke-width="1.4"/>
<path d="M302.5 531.7V520.0M298.2 520.0H306.8" stroke="#000" stroke-width="1.5"/>
<rect x="297.4" y="532.4" width="10.7" height="117.1" fill="#000" stroke="#000" stroke-width="1.4"/>
<path d="M323.2 591.7V580.0M318.9 580.0H327.5" stroke="#000" stroke-width="1.5"/>
<rect x="318.0" y="592.4" width="10.7" height="57.1" fill="#fff" stroke="#000" stroke-width="1.4"/>
<path d="M343.9 607.7V599.0M339.6 599.0H348.2" stroke="#000" stroke-width="1.5"/>
<rect x="338.7" y="608.4" width="10.7" height="41.1" fill="#fff" stroke="#000" stroke-width="1.4"/>
<path d="M259.4 458V436H302.8V458" stroke="#000" stroke-width="1.4" fill="none"/>
<text x="261.8" y="419.8" font-size="8.6" font-weight="bold" stroke="#000" stroke-width="0.5" textLength="30.9" lengthAdjust="spacingAndGlyphs"><tspan font-style="italic">F</tspan> = 3.5</text>
<text x="261.8" y="430.9" font-size="8.6" font-weight="bold" stroke="#000" stroke-width="0.5" textLength="36.2" lengthAdjust="spacingAndGlyphs"><tspan font-style="italic">P</tspan> = .063</text>
<text x="261.8" y="662.0" font-size="8.4" font-weight="bold" stroke="#000" stroke-width="0.5" textLength="11.8" lengthAdjust="spacingAndGlyphs" text-anchor="middle" >87</text>
<text x="283.2" y="662.0" font-size="8.4" font-weight="bold" stroke="#000" stroke-width="0.5" textLength="11.8" lengthAdjust="spacingAndGlyphs" text-anchor="middle" >35</text>
<text x="302.5" y="662.0" font-size="8.4" font-weight="bold" stroke="#000" stroke-width="0.5" textLength="11.8" lengthAdjust="spacingAndGlyphs" text-anchor="middle" >35</text>
<text x="324.0" y="662.0" font-size="8.4" font-weight="bold" stroke="#000" stroke-width="0.5" textLength="11.8" lengthAdjust="spacingAndGlyphs" text-anchor="middle" >35</text>
<text x="344.6" y="662.0" font-size="8.4" font-weight="bold" stroke="#000" stroke-width="0.5" textLength="11.8" lengthAdjust="spacingAndGlyphs" text-anchor="middle" >28</text>
<text x="306.8" y="682.0" font-size="13" font-weight="bold" stroke="#000" stroke-width="0.5" textLength="74.6" lengthAdjust="spacingAndGlyphs" text-anchor="middle" >CD3/CD28</text>
<path d="M258.5 686.6H356.8" stroke="#000" stroke-width="1.8"/>
<rect x="260.6" y="696.5" width="6.4" height="2.2" fill="#000"/>
<text x="285.5" y="701.4" font-size="10" font-weight="bold" stroke="#000" stroke-width="0.5" textLength="12.2" lengthAdjust="spacingAndGlyphs" text-anchor="middle" >10</text>
<text x="307.5" y="701.4" font-size="10" font-weight="bold" stroke="#000" stroke-width="0.5" textLength="22.2" lengthAdjust="spacingAndGlyphs" text-anchor="middle" >40L</text>
<text x="327.2" y="701.4" font-size="10" font-weight="bold" stroke="#000" stroke-width="0.5" textLength="8.5" lengthAdjust="spacingAndGlyphs" text-anchor="middle" >G</text>
<text x="345.7" y="701.4" font-size="10" font-weight="bold" stroke="#000" stroke-width="0.5" textLength="8.5" lengthAdjust="spacingAndGlyphs" text-anchor="middle" >G</text>
<text x="348.5" y="714.3" font-size="10" font-weight="bold" stroke="#000" stroke-width="0.5" textLength="21.0" lengthAdjust="spacingAndGlyphs" text-anchor="middle" >40L</text>
<path d="M385.2 493.5V484.2M380.9 484.2H389.5" stroke="#000" stroke-width="1.5"/>
<rect x="380.0" y="494.2" width="10.7" height="155.3" fill="#c0c0c0" stroke="#000" stroke-width="1.4"/>
<path d="M405.8 484.2V472.0M401.5 472.0H410.1" stroke="#000" stroke-width="1.5"/>
<rect x="400.7" y="484.9" width="10.7" height="164.6" fill="#fff" stroke="#000" stroke-width="1.4"/>
<path d="M426.5 622.3V613.0M422.2 613.0H430.8" stroke="#000" stroke-width="1.5"/>
<rect x="421.3" y="623.0" width="10.7" height="26.5" fill="#000" stroke="#000" stroke-width="1.4"/>
<path d="M447.1 591.5V578.3M442.8 578.3H451.4" stroke="#000" stroke-width="1.5"/>
<rect x="442.0" y="592.2" width="10.7" height="57.3" fill="#fff" stroke="#000" stroke-width="1.4"/>
<path d="M467.8 630.0V620.0M463.5 620.0H472.1" stroke="#000" stroke-width="1.5"/>
<rect x="462.7" y="630.7" width="10.7" height="18.8" fill="#fff" stroke="#000" stroke-width="1.4"/>
<path d="M383.4 478.7V436H426.8V478.7" stroke="#000" stroke-width="1.4" fill="none"/>
<text x="385.8" y="419.8" font-size="8.6" font-weight="bold" stroke="#000" stroke-width="0.5" textLength="37.8" lengthAdjust="spacingAndGlyphs"><tspan font-style="italic">F</tspan> = 47.5</text>
<text x="385.8" y="430.9" font-size="8.6" font-weight="bold" stroke="#000" stroke-width="0.5" textLength="36.2" lengthAdjust="spacingAndGlyphs"><tspan font-style="italic">P</tspan> &lt; .001</text>
<text x="384.6" y="662.0" font-size="8.4" font-weight="bold" stroke="#000" stroke-width="0.5" textLength="11.8" lengthAdjust="spacingAndGlyphs" text-anchor="middle" >87</text>
<text x="406.2" y="662.0" font-size="8.4" font-weight="bold" stroke="#000" stroke-width="0.5" textLength="11.8" lengthAdjust="spacingAndGlyphs" text-anchor="middle" >35</text>
<text x="427.5" y="662.0" font-size="8.4" font-weight="bold" stroke="#000" stroke-width="0.5" textLength="11.8" lengthAdjust="spacingAndGlyphs" text-anchor="middle" >35</text>
<text x="444.6" y="662.0" font-size="8.4" font-weight="bold" stroke="#000" stroke-width="0.5" textLength="11.8" lengthAdjust="spacingAndGlyphs" text-anchor="middle" >35</text>
<text x="466.5" y="662.0" font-size="8.4" font-weight="bold" stroke="#000" stroke-width="0.5" textLength="11.8" lengthAdjust="spacingAndGlyphs" text-anchor="middle" >28</text>
<text x="429.9" y="682.0" font-size="13" font-weight="bold" stroke="#000" stroke-width="0.5" textLength="75.1" lengthAdjust="spacingAndGlyphs" text-anchor="middle" >CD3/CD46</text>
<path d="M382.4 686.6H479.7" stroke="#000" stroke-width="1.8"/>
<rect x="383.8" y="696.5" width="6.4" height="2.2" fill="#000"/>
<text x="408.6" y="701.4" font-size="10" font-weight="bold" stroke="#000" stroke-width="0.5" textLength="12.2" lengthAdjust="spacingAndGlyphs" text-anchor="middle" >10</text>
<text x="431.0" y="701.4" font-size="10" font-weight="bold" stroke="#000" stroke-width="0.5" textLength="22.2" lengthAdjust="spacingAndGlyphs" text-anchor="middle" >40L</text>
<text x="451.2" y="701.4" font-size="10" font-weight="bold" stroke="#000" stroke-width="0.5" textLength="8.5" lengthAdjust="spacingAndGlyphs" text-anchor="middle" >G</text>
<text x="469.3" y="701.4" font-size="10" font-weight="bold" stroke="#000" stroke-width="0.5" textLength="8.5" lengthAdjust="spacingAndGlyphs" text-anchor="middle" >G</text>
<text x="471.5" y="714.3" font-size="10" font-weight="bold" stroke="#000" stroke-width="0.5" textLength="21.0" lengthAdjust="spacingAndGlyphs" text-anchor="middle" >40L</text>
<text x="115.5" y="662.0" font-size="8.4" font-weight="bold" stroke="#000" stroke-width="0.5" textLength="12.5" lengthAdjust="spacingAndGlyphs" >n=</text>
</svg></body></html>
